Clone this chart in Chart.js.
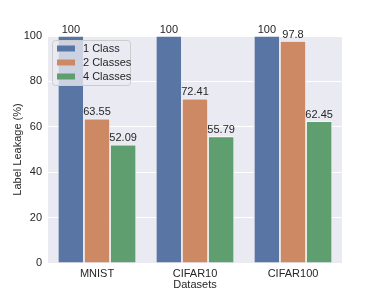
<!DOCTYPE html>
<html>
<head>
<meta charset="UTF-8">
<title>Label Leakage</title>
<script src="https://cdn.jsdelivr.net/npm/chart.js@4.4.0/dist/chart.umd.min.js"></script>
<style>
    body { margin: 0; background: #fff; }
    #wrap { width: 381px; height: 296px; }
</style>
</head>
<body>
<div id="wrap"><canvas id="leakChart"></canvas></div>
<script>
// data
var datasetNames = ["MNIST", "CIFAR10", "CIFAR100"];
var seriesLabels = ["1 Class", "2 Classes", "4 Classes"];
var oneClass = [100, 100, 100];
var twoClasses = [63.55, 72.41, 97.8];
var fourClasses = [52.09, 55.79, 62.45];
var yTicks = [0, 20, 40, 60, 80, 100];

var colors = ['#5975a4', '#cc8963', '#5f9e6e'];
var fontFamily = '"Liberation Sans", Arial, sans-serif';
var textColor = '#262626';

// grey plot background (seaborn darkgrid)
var bgPlugin = {
    id: 'plotBg',
    beforeDraw: function(chart) {
        var a = chart.chartArea, ctx = chart.ctx;
        ctx.save();
        ctx.fillStyle = '#eaeaf2';
        ctx.fillRect(a.left, a.top, a.right - a.left, a.bottom - a.top);
        ctx.restore();
    }
};

// value labels above each bar
var valuePlugin = {
    id: 'values',
    afterDatasetsDraw: function(chart) {
        var ctx = chart.ctx;
        ctx.save();
        ctx.font = '11px ' + fontFamily;
        ctx.fillStyle = textColor;
        ctx.textAlign = 'center';
        ctx.textBaseline = 'bottom';
        chart.data.datasets.forEach(function(ds, i) {
            chart.getDatasetMeta(i).data.forEach(function(bar, j) {
                ctx.fillText(String(ds.data[j]), bar.x, bar.y - 1);
            });
        });
        ctx.restore();
    }
};

// legend box in the upper left of the plot
var legendPlugin = {
    id: 'boxLegend',
    afterDraw: function(chart) {
        var a = chart.chartArea, ctx = chart.ctx;
        var x0 = a.left + 4, y0 = a.top + 4, w = 78, h = 45;
        ctx.save();
        ctx.beginPath();
        ctx.roundRect(x0 + 0.5, y0 + 0.5, w, h, 3);
        ctx.fillStyle = 'rgba(234,234,242,0.8)';
        ctx.fill();
        ctx.strokeStyle = '#cccccc';
        ctx.lineWidth = 1;
        ctx.stroke();
        ctx.font = '11px ' + fontFamily;
        ctx.textBaseline = 'middle';
        ctx.textAlign = 'left';
        chart.data.datasets.forEach(function(ds, i) {
            var cy = y0 + 8.5 + i * 14;
            ctx.fillStyle = ds.backgroundColor;
            ctx.fillRect(x0 + 5, cy - 3, 18, 6);
            ctx.fillStyle = textColor;
            ctx.fillText(ds.label, x0 + 31, cy);
        });
        ctx.restore();
    }
};

var seriesData = [oneClass, twoClasses, fourClasses];

new Chart(document.getElementById('leakChart'), {
    type: 'bar',
    data: {
        labels: datasetNames,
        datasets: seriesData.map(function(vals, i) {
            return {
                label: seriesLabels[i],
                data: vals,
                backgroundColor: colors[i],
                borderColor: '#ffffff',
                borderWidth: 0.8,
                categoryPercentage: 0.8,
                barPercentage: 1.0
            };
        })
    },
    options: {
        responsive: true,
        maintainAspectRatio: false,
        animation: false,
        layout: { padding: { top: 36, right: 39, left: 0, bottom: 0 } },
        plugins: {
            legend: { display: false },
            tooltip: { enabled: false }
        },
        scales: {
            x: {
                grid: { display: false, drawTicks: false },
                border: { display: false },
                ticks: { color: textColor, font: { family: fontFamily, size: 11 }, padding: 4 },
                title: { display: true, text: 'Datasets', color: textColor, font: { family: fontFamily, size: 11 }, padding: { top: 0, bottom: 4 } },
                afterFit: function(s) { s.height = 33; }
            },
            y: {
                min: 0,
                max: 100,
                afterBuildTicks: function(s) { s.ticks = yTicks.map(function(v) { return { value: v }; }); },
                grid: { color: '#ffffff', lineWidth: 1, drawTicks: false },
                border: { display: false },
                ticks: { color: textColor, font: { family: fontFamily, size: 11 }, padding: 6 },
                title: { display: true, text: 'Label Leakage (%)', color: textColor, font: { family: fontFamily, size: 11 }, padding: { top: 11, bottom: 0 } },
                afterFit: function(s) { s.width = 48; }
            }
        }
    },
    plugins: [bgPlugin, valuePlugin, legendPlugin]
});
</script>
</body>
</html>
